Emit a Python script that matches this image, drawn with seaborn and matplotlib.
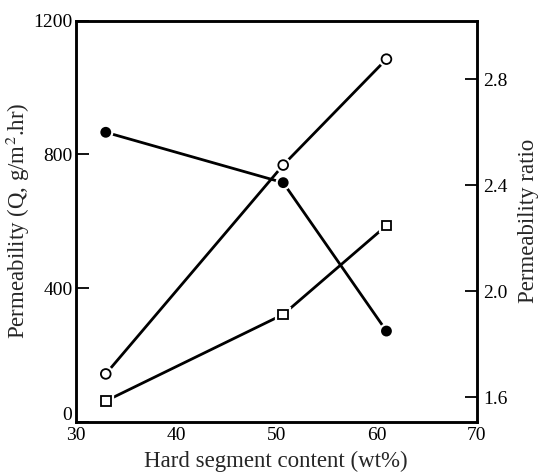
import matplotlib
matplotlib.use("Agg")
import matplotlib.pyplot as plt
import matplotlib.patheffects as pe
import matplotlib.transforms as mtransforms
import seaborn as sns
import pandas as pd

hard_segment = [33.0, 50.7, 61.0]
perm_open = [143, 768, 1085]
perm_square = [62, 321, 587]
perm_ratio = [2.60, 2.41, 1.85]

sns.set_theme(style="white")
plt.rcParams['font.family'] = ['Liberation Serif', 'DejaVu Serif']
plt.rcParams['mathtext.fontset'] = 'stix'

fig = plt.figure(figsize=(5.38, 4.75), dpi=100)
ax = fig.add_axes([0.1407, 0.1122, 0.886 - 0.1407, 0.9564 - 0.1122])

df = pd.DataFrame({"x": hard_segment, "open": perm_open, "square": perm_square, "ratio": perm_ratio})

halo = [pe.withStroke(linewidth=4.5, foreground="white")]


def draw(axis, col, marker, face, ms):
    sns.lineplot(data=df, x="x", y=col, ax=axis, color="black", lw=2)
    sns.lineplot(data=df, x="x", y=col, ax=axis, color="black", linestyle="none",
                 marker=marker, markersize=ms, markerfacecolor=face,
                 markeredgecolor="black", markeredgewidth=1.3)
    axis.lines[-1].set_path_effects(halo)


draw(ax, "open", "o", "white", 7)
draw(ax, "square", "s", "white", 7)

ax.set_xlim(30, 70)
ax.set_ylim(0, 1200)
ax.set_xticks([30, 40, 50, 60, 70])
ax.set_yticks([0, 400, 800, 1200])
ax.set_xlabel("Hard segment content (wt%)", fontsize=16.5, labelpad=5)
ax.set_ylabel("Permeability (Q, g/m$^2$.hr)", fontsize=16.5, labelpad=1)
ax.tick_params(axis="both", direction="in", length=9, width=1.3, labelsize=14,
               colors="black", pad=2)
ax.tick_params(axis="x", pad=4)

ax2 = ax.twinx()
draw(ax2, "ratio", "o", "black", 6.5)
ax2.set_ylim(1.508, 3.021)
ax2.set_yticks([1.6, 2.0, 2.4, 2.8])
ax2.set_yticklabels(["1.6", "2.0", "2.4", "2.8"])
ax2.set_ylabel("Permeability ratio", fontsize=16.5, labelpad=7)
ax2.tick_params(axis="y", direction="in", length=9, width=1.3, labelsize=14,
                colors="black", pad=5)
ax2.set_xlim(30, 70)

for a in (ax, ax2):
    for s in a.spines.values():
        s.set_linewidth(1.8)
        s.set_color("black")
        s.set_visible(True)

# nudge the "0" label up so it clears the "30" below it, as in the reference
fig.canvas.draw()
zero_lbl = ax.get_yticklabels()[0]
zero_lbl.set_transform(zero_lbl.get_transform() +
                       mtransforms.ScaledTranslation(-1 / 72, 6 / 72, fig.dpi_scale_trans))

fig.savefig("out.png", dpi=100)
